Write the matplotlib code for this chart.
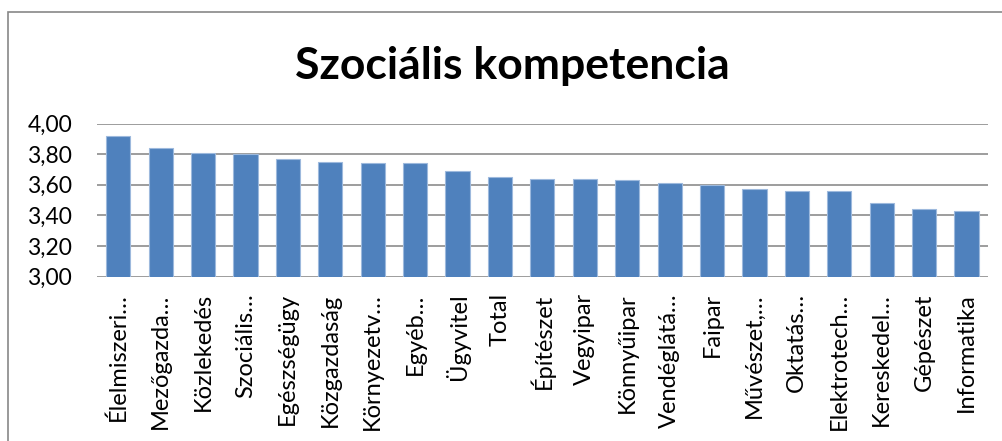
import numpy as np
import matplotlib
matplotlib.use("Agg")
import matplotlib.pyplot as plt
from matplotlib.patches import Rectangle

plt.rcParams['font.family'] = ['Lato', 'DejaVu Sans']

categories = ["Élelmiszeri…", "Mezőgazda…", "Közlekedés", "Szociális…", "Egészségügy",
              "Közgazdaság", "Környezetv…", "Egyéb…", "Ügyvitel", "Total", "Építészet",
              "Vegyipar", "Könnyűipar", "Vendéglátá…", "Faipar", "Művészet,…", "Oktatás…",
              "Elektrotech…", "Kereskedel…", "Gépészet", "Informatika"]
values = [3.92, 3.84, 3.81, 3.80, 3.77, 3.75, 3.74, 3.74, 3.69, 3.65, 3.64,
          3.635, 3.63, 3.61, 3.60, 3.57, 3.56, 3.56, 3.48, 3.44, 3.43]
yticks = [3.0, 3.2, 3.4, 3.6, 3.8, 4.0]

W, H = 1003, 441
fig = plt.figure(figsize=(W / 100, H / 100), dpi=100)

# outer chart frame (only left and top edges visible in the crop)
fig.patches.append(Rectangle((8 / W, -0.1), 1.2, 1 - 12 / H + 0.1, transform=fig.transFigure,
                             fill=False, edgecolor="#878787", linewidth=1.2))

ax = fig.add_axes([97 / W, 1 - 276.7 / H, (987.7 - 97) / W, (276.7 - 123.5) / H])
x = np.arange(len(categories))
ax.bar(x, values, width=0.57, bottom=0, color="#4F81BD", edgecolor="#9DB9DD", linewidth=0.8, zorder=3)
ax.set_ylim(3.0, 4.0)
ax.set_xlim(-0.5, len(categories) - 0.5)
ax.set_yticks(yticks)
ax.set_yticklabels([f"{v:.2f}".replace('.', ',') for v in yticks], fontsize=16.5)
ax.set_xticks(x)
ax.set_xticklabels(categories, rotation=90, fontsize=17, va='top', ha='center')
ax.tick_params(axis='y', length=0, pad=18)
ax.tick_params(axis='x', length=0, pad=12)
ax.grid(axis='y', color="#8C8C8C", linewidth=1.2, zorder=0)
for s in ax.spines.values():
    s.set_visible(False)

fig.text(512 / W, 1 - 66 / H, "Szociális kompetencia", fontsize=32, fontweight='bold',
         ha='center', va='center')

fig.savefig("out.png", dpi=100)
